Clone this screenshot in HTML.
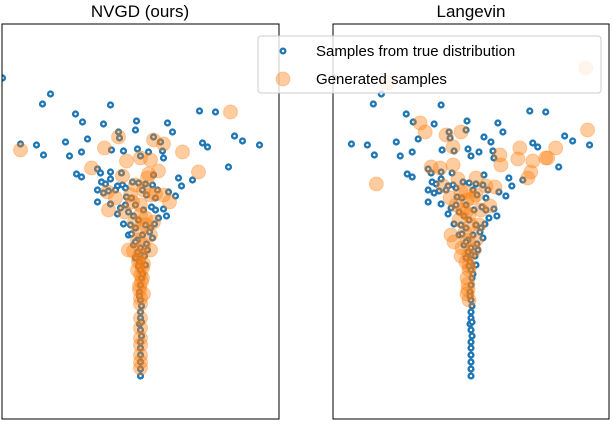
<!DOCTYPE html>
<html><head><meta charset="utf-8"><style>
html,body{margin:0;padding:0;background:#fff;}
svg{display:block;font-family:"Liberation Sans",sans-serif;}
</style></head><body>
<svg id="chart" width="612" height="424" viewBox="0 0 612 424">
<g id="p0"></g>
<g id="p1"></g>
<text x="140" y="17" font-size="17" text-anchor="middle">NVGD (ours)</text>
<text x="471" y="17" font-size="17" text-anchor="middle">Langevin</text>
<g>
<rect x="258" y="36" width="343" height="57" rx="3" fill="#fff" fill-opacity="0.8" stroke="#ccc"/>
<g>
<circle cx="283" cy="51" r="3.5" fill="#1f77b4"/><circle cx="283" cy="51" r="1.2" fill="#fff"/>
<text x="316" y="56" font-size="15">Samples from true distribution</text></g>
<g>
<circle cx="283" cy="79" r="7" fill="#ff7f0e" fill-opacity="0.4" stroke="#ff7f0e" stroke-opacity="0.3"/>
<text x="316" y="84" font-size="15">Generated samples</text></g>
</g>
</svg>
<script>
const trueX=[-9.0,-9.8,-3.0,-6.5,-0.4,-5.8,5.9,7.5,-12.0,-10.4,-9.7,-7.5,-3.7,-2.2,-2.1,-5.3,-0.5,2.7,3.2,1.3,-7.1,-5.9,-2.9,-1.7,-0.3,2.0,0.0,0.8,2.2,2.3,6.2,6.7,9.4,10.2,11.9,8.8,-6.4,-5.9,-4.3,-4.0,-3.0,-1.9,-3.0,-3.9,-2.3,-1.8,1.2,1.3,3.8,4.1,5.2,-4.3,-3.7,-3.2,-1.4,-0.9,-4.3,-2.3,-0.7,0.6,1.5,1.1,2.3,2.6,-13.8,
-0.2,0.5,-0.5,0.2,-0.3,0,0.1,-0.1,0,0.1,0,-0.1,0,0.1,0,0,-0.1,0,0.1,0,0,0,0,0,0,
-1.5,1.5,-1.0,1.0,-1.2,1.2,-0.7,0.7,-0.5,0.5,-0.2,0.2,-0.5,
-3.5,-2.5,-1.5,-0.8,0.5,1.7,2.8,3.5,-3.0,-2.0,-1.2,0.3,1.8,-1.7,1.4,-0.9,0.9,-0.5,0.6,-0.3,0.4,-0.2,0.2,-0.1,0.1];
const trueY=[6.8,6.3,6.25,5.8,5.45,5.4,5.95,5.9,4.3,4.25,3.75,4.4,5.3,4.9,4.6,4.55,5.0,5.35,4.9,4.65,3.7,3.9,4.0,3.95,4.05,4.4,3.7,3.9,3.95,3.6,4.35,4.15,4.7,4.45,4.25,3.15,2.8,2.65,3.05,2.85,2.9,2.85,2.55,2.4,2.2,2.25,2.25,2.75,2.6,2.2,2.5,2.0,1.85,1.95,1.65,1.6,1.4,0.8,0.7,1.75,1.6,1.15,1.05,0.7,7.6,
0.5,0.25,0.1,-0.25,-0.5,-0.9,-1.25,-1.6,-2,-2.4,-2.75,-3.1,-3.5,-3.8,-4.1,-4.4,-4.7,-5,-5.3,-5.6,-5.9,-6.25,-6.6,-6.95,-7.3,
1.25,1.0,0.25,0.1,-0.25,-0.4,-0.75,-1.0,-1.4,-1.75,2.35,2.0,1.25,
2.3,2.0,2.1,2.4,2.3,2.0,1.9,1.7,1.3,1.1,0.9,1.0,0.6,0.3,0.3,-0.2,-0.1,-0.6,-0.7,-1.1,-1.3,-1.8,-2.2,-3.3,-4.6];
const nvgdX=[-12.0,9.0,-3.6,-2.2,1.3,2.3,4.2,5.8,-4.9,-1.4,0,1.0,1.8,0.7,-3.3,-2.5,2.9,2.3,-0.5,-1.0,0.3,1.0,0,-1.2,1.0,-3.2,0,0.5,-0.2,1.0,-0.3,0.3,0,-0.2,0.2,0,0.1,-0.1,0,0,0,0,0,0,-0.7,
-0.2,0.3,-0.3,0.2,-0.1,0.3,0,0.5,-0.6,1.3,-1.6,1.5,-0.8,0.8,-1.8,0,0];
const nvgdY=[4.0,5.9,4.1,4.65,4.5,4.3,3.9,2.9,3.1,3.45,3.6,3.5,2.95,2.6,1.9,1.6,1.4,1.75,2.25,1.75,2.0,1.75,1.25,-1.0,-1.0,1.0,0.75,0.25,0,-0.25,-0.5,-0.75,-1.25,-1.6,-1.9,-2.25,-2.6,-3.0,-3.4,-4.4,-5.4,-5.75,-6.25,-6.9,-1.05,
-1.4,-1.7,-2.0,-2.4,-2.8,-3.2,-3.7,0.6,0.4,0.4,0.9,1.8,1.4,2.8,2.7,-4.9,-6.6];
const langX=[-8.4,-5.1,-4.6,-2.5,-1.0,-1.8,-9.5,-4.0,-3.1,-1.8,2.9,3.0,4.9,4.7,6.2,7.7,6.0,5.7,11.7,-1.3,1.5,2.4,0.5,-2.1,-0.5,11.5,8.5,7.5,
-0.4,-0.8,-0.2,-1.2,0,-0.6,-0.3,-0.9,-0.2,-0.5,-0.2,-0.4,-0.3,-0.2,0.8,-1.5,1.0,-2.0,0.5,
-0.3,-0.4,-0.2,0.3,-1.0,0.2,-1.0,0.5,-2.8,1.9,-1.7,-0.5];
const langY=[7.35,5.35,4.9,4.75,4.9,4.15,2.3,3.15,3.1,3.25,3.75,3.25,4.1,3.55,3.45,3.6,2.9,2.6,5.0,2.55,2.2,2.15,1.75,1.6,1.9,8.1,4.1,3.6,
1.5,1.0,0.75,0.5,0.25,-0.1,-0.5,-0.9,-1.25,-1.6,-2.0,-2.4,-3.0,-3.5,0.25,1.25,1.0,-0.25,-0.5,
-2.7,-3.2,-1.8,-1.0,-1.3,1.6,1.9,2.6,2.2,1.2,-0.6,0.9];

const NS='http://www.w3.org/2000/svg';
const panels=[{left:2,right:279,g:'p0',gx:nvgdX,gy:nvgdY},{left:333,right:609,g:'p1',gx:langX,gy:langY}];
const yTop=24,yBottom=419,xMin=-13.85,xMax=13.85,yMin=-9.45,yMax=10.3;
function sx(p,v){return p.left+(v-xMin)/(xMax-xMin)*(p.right-p.left);}
function sy(v){return yBottom-(v-yMin)/(yMax-yMin)*(yBottom-yTop);}
function mk(tag,attrs,parent){const e=document.createElementNS(NS,tag);for(const k in attrs)e.setAttribute(k,attrs[k]);parent.appendChild(e);return e;}
panels.forEach((p,pi)=>{
  const g=document.getElementById(p.g);
  const clip=mk('clipPath',{id:'c'+pi},g);
  mk('rect',{x:p.left,y:yTop,width:p.right-p.left,height:yBottom-yTop},clip);
  const pts=mk('g',{'clip-path':'url(#c'+pi+')'},g);
  
  
  for(let i=0;i<trueX.length;i++){
    const cx=sx(p,trueX[i]),cy=sy(trueY[i]);
    const c=mk('circle',{cx:cx,cy:cy,r:3.6,fill:'#1f77b4'},pts);
    
    
    mk('circle',{cx:cx,cy:cy,r:1.2,fill:'#fff'},pts);
  }
  for(let i=0;i<p.gx.length;i++){
    const c=mk('circle',{cx:sx(p,p.gx[i]),cy:sy(p.gy[i]),r:7,fill:'#ff7f0e','fill-opacity':0.4,stroke:'#ff7f0e','stroke-opacity':0.3},pts);
    
    
  }
  const f=mk('rect',{x:p.left,y:yTop,width:p.right-p.left,height:yBottom-yTop,fill:'none',stroke:'#000','stroke-width':1},g);
  
  
});
</script>
</body></html>
